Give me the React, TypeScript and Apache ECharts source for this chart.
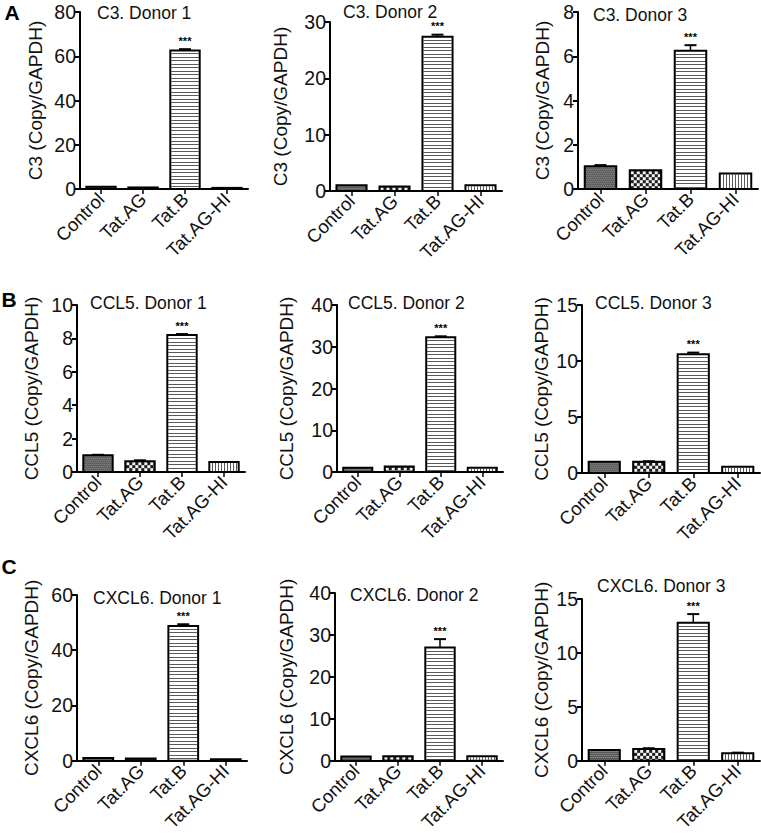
import React, { useEffect, useRef } from "react";
import * as echarts from "echarts";

const categories = ["Control", "Tat.AG", "Tat.B", "Tat.AG-HI"];
const significance = ["", "", "***", ""];
const panelLetters = ["A", "B", "C"];

const panelTitles = [
  "C3. Donor 1", "C3. Donor 2", "C3. Donor 3",
  "CCL5. Donor 1", "CCL5. Donor 2", "CCL5. Donor 3",
  "CXCL6. Donor 1", "CXCL6. Donor 2", "CXCL6. Donor 3",
];
const yAxisNames = [
  "C3 (Copy/GAPDH)", "C3 (Copy/GAPDH)", "C3 (Copy/GAPDH)",
  "CCL5 (Copy/GAPDH)", "CCL5 (Copy/GAPDH)", "CCL5 (Copy/GAPDH)",
  "CXCL6 (Copy/GAPDH)", "CXCL6 (Copy/GAPDH)", "CXCL6 (Copy/GAPDH)",
];
const yMaxValues = [80, 30, 8, 10, 40, 15, 60, 40, 15];
const yIntervals = [20, 10, 2, 2, 10, 5, 20, 10, 5];

// means per category: Control, Tat.AG, Tat.B, Tat.AG-HI
const c3Donor1 = [1.0, 0.7, 62.6, 0.5];
const c3Donor1Err = [0.05, 0.05, 0.6, 0.05];
const c3Donor2 = [1.0, 0.8, 27.4, 1.0];
const c3Donor2Err = [0.05, 0.05, 0.35, 0.05];
const c3Donor3 = [1.03, 0.85, 6.25, 0.7];
const c3Donor3Err = [0.05, 0.02, 0.25, 0.02];
const ccl5Donor1 = [1.0, 0.65, 8.2, 0.6];
const ccl5Donor1Err = [0.03, 0.05, 0.06, 0.02];
const ccl5Donor2 = [1.0, 1.3, 32.3, 1.0];
const ccl5Donor2Err = [0.05, 0.1, 0.2, 0.05];
const ccl5Donor3 = [1.0, 1.0, 10.6, 0.55];
const ccl5Donor3Err = [0.03, 0.05, 0.15, 0.02];
const cxcl6Donor1 = [1.0, 0.8, 48.8, 0.5];
const cxcl6Donor1Err = [0.05, 0.05, 0.6, 0.05];
const cxcl6Donor2 = [1.0, 1.1, 27.0, 1.1];
const cxcl6Donor2Err = [0.05, 0.1, 2.0, 0.05];
const cxcl6Donor3 = [1.0, 1.1, 12.8, 0.7];
const cxcl6Donor3Err = [0.03, 0.06, 0.8, 0.05];

const panelMeans = [c3Donor1, c3Donor2, c3Donor3, ccl5Donor1, ccl5Donor2, ccl5Donor3, cxcl6Donor1, cxcl6Donor2, cxcl6Donor3];
const panelErrors = [c3Donor1Err, c3Donor2Err, c3Donor3Err, ccl5Donor1Err, ccl5Donor2Err, ccl5Donor3Err, cxcl6Donor1Err, cxcl6Donor2Err, cxcl6Donor3Err];

// ---------- layout (pixels) ----------
const gridBoxes = [
  { left: 80, top: 12, width: 168, height: 177 },
  { left: 330, top: 22, width: 172, height: 169 },
  { left: 578, top: 12, width: 180, height: 177 },
  { left: 77, top: 305, width: 168, height: 167 },
  { left: 337, top: 305, width: 166, height: 167 },
  { left: 582, top: 305, width: 178, height: 168 },
  { left: 77, top: 595, width: 170, height: 171 },
  { left: 335, top: 593, width: 168, height: 170 },
  { left: 582, top: 599, width: 178, height: 168 },
];
const titlePos = [
  [97, 4], [343, 3], [593, 6],
  [90, 294], [348, 294], [595, 294],
  [93, 589], [350, 586], [597, 577],
];
const nameGaps = [35, 40, 26, 36, 41, 31, 36, 39, 31];
const letterPos = [[12, 12], [9, 299], [9, 566]];

const FONT = "'Liberation Sans', Arial, Helvetica, sans-serif";
const TXT = "#111";

function renderBar(params: any, api: any) {
  const ci = api.value(0);
  const v = api.value(1);
  const e = api.value(2);
  const base = api.coord([ci, 0]);
  const top = api.coord([ci, v]);
  const errTop = api.coord([ci, v + e]);
  const band = api.size([1, 0])[0];
  const w = band * 0.7;
  const x0 = base[0] - w / 2;
  const x1 = x0 + w;
  const y0 = top[1];
  const y1 = base[1];
  const h = y1 - y0;
  const children: any[] = [];
  const fills = ["#555555", "#1c1c1c", "#ffffff", "#ffffff"];
  children.push({ type: "rect", shape: { x: x0, y: y0, width: w, height: h }, style: { fill: fills[ci], stroke: null } });

  if (ci === 0) {
    let row = 0;
    for (let y = y0 + 1; y < y1 - 1; y += 2, row++) {
      for (let x = x0 + 1 + (row % 2); x < x1 - 1; x += 2) {
        children.push({ type: "rect", shape: { x, y, width: 1, height: 1 }, style: { fill: "#a8a8a8" } });
      }
    }
  } else if (ci === 1) {
    const s = 3;
    let row = 0;
    for (let y = y0 + 1; y < y1 - 1; y += s, row++) {
      for (let x = x0 + 1 + (row % 2) * s; x < x1 - 1; x += 2 * s) {
        const ww = Math.min(s, x1 - 1 - x);
        const hh = Math.min(s, y1 - 1 - y);
        if (ww > 0 && hh > 0) {
          children.push({ type: "rect", shape: { x, y, width: ww, height: hh }, style: { fill: "#f4f4f4" } });
        }
      }
    }
  } else if (ci === 2) {
    for (let y = y0 + 3; y < y1 - 1.5; y += 3.5) {
      const yy = Math.round(y) + 0.5;
      children.push({ type: "line", shape: { x1: x0 + 1, y1: yy, x2: x1 - 1, y2: yy }, style: { stroke: "#5a5a5a", lineWidth: 1 } });
    }
  } else {
    for (let x = x0 + 3; x < x1 - 1.5; x += 3) {
      const xx = Math.round(x) + 0.5;
      children.push({ type: "line", shape: { x1: xx, y1: y0 + 1, x2: xx, y2: y1 - 1 }, style: { stroke: "#5a5a5a", lineWidth: 1 } });
    }
  }

  children.push({ type: "rect", shape: { x: x0, y: y0, width: w, height: h }, style: { fill: null, stroke: "#000", lineWidth: 2 } });

  if (errTop[1] < y0 - 0.5) {
    children.push({ type: "line", shape: { x1: base[0], y1: y0, x2: base[0], y2: errTop[1] }, style: { stroke: "#000", lineWidth: 1.5 } });
    children.push({ type: "line", shape: { x1: base[0] - 6, y1: errTop[1], x2: base[0] + 6, y2: errTop[1] }, style: { stroke: "#000", lineWidth: 2 } });
  }
  const sig = significance[ci];
  if (sig) {
    children.push({
      type: "text",
      style: { text: sig, x: base[0], y: Math.min(errTop[1], y0) - 3, textAlign: "center", textVerticalAlign: "bottom", fontSize: 11, fontWeight: "bold", fill: "#000", fontFamily: FONT },
    });
  }
  return { type: "group", children };
}

export default function App() {
  const ref = useRef<HTMLDivElement>(null);
  useEffect(() => {
    document.body.style.margin = "0";
    const chart = echarts.init(ref.current!, null, { renderer: "svg" });
    const grid = gridBoxes.map((g) => ({ ...g, containLabel: false }));
    const xAxis = gridBoxes.map((_, i) => ({
      type: "category",
      gridIndex: i,
      data: categories,
      axisLine: { show: true, lineStyle: { color: "#000", width: 2 } },
      axisTick: { show: true, alignWithLabel: true, length: 5, lineStyle: { color: "#000", width: 1.5 } },
      axisLabel: { rotate: 45, interval: 0, fontSize: 18.5, margin: 7, color: TXT, fontFamily: FONT },
      splitLine: { show: false },
    }));
    const yAxis = gridBoxes.map((_, i) => ({
      type: "value",
      gridIndex: i,
      min: 0,
      max: yMaxValues[i],
      interval: yIntervals[i],
      name: yAxisNames[i],
      nameLocation: "middle",
      nameGap: nameGaps[i],
      nameTextStyle: { fontSize: 19, color: TXT, fontFamily: FONT },
      axisLine: { show: true, lineStyle: { color: "#000", width: 2 } },
      axisTick: { show: true, length: 5, lineStyle: { color: "#000", width: 2 } },
      axisLabel: { fontSize: 19.5, margin: 4, color: TXT, fontFamily: FONT },
      splitLine: { show: false },
    }));
    const series = panelMeans.map((means, i) => ({
      type: "custom",
      xAxisIndex: i,
      yAxisIndex: i,
      renderItem: renderBar,
      clip: false,
      encode: { x: 0, y: 1 },
      data: means.map((m, j) => [j, m, panelErrors[i][j]]),
      z: 3,
    }));
    const title = panelTitles.map((t, i) => ({
      text: t,
      left: titlePos[i][0],
      top: titlePos[i][1],
      padding: 0,
      textStyle: { fontSize: 17.5, fontWeight: "normal", color: TXT, fontFamily: FONT },
    }));
    const graphic = panelLetters.map((l, i) => ({
      type: "text",
      x: letterPos[i][0],
      y: letterPos[i][1],
      style: { text: l, fontSize: 21, fontWeight: "bold", fill: "#000", textAlign: "center", textVerticalAlign: "middle", fontFamily: FONT },
    }));
    chart.setOption({
      animation: false,
      backgroundColor: "#fff",
      title,
      grid,
      xAxis,
      yAxis,
      series,
      graphic,
    });
    return () => chart.dispose();
  }, []);
  return <div ref={ref} style={{ position: "fixed", left: 0, top: 0, width: 761, height: 834, background: "#fff" }} />;
}
